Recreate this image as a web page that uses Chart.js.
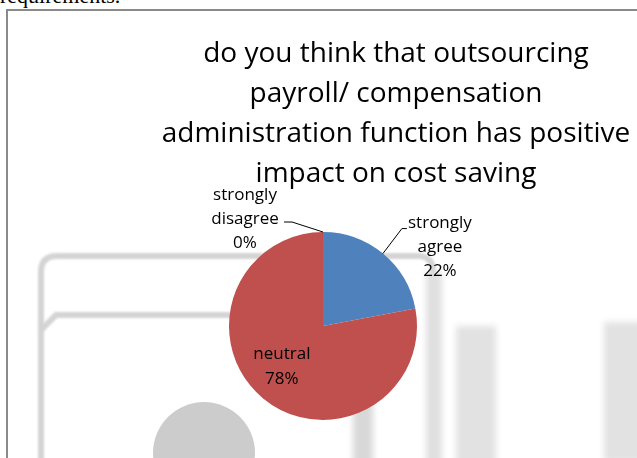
<!DOCTYPE html>
<html>
<head>
<meta charset="utf-8">
<script src="https://cdn.jsdelivr.net/npm/chart.js@4.4.1/dist/chart.umd.min.js"></script>
<style>
  html, body { margin: 0; padding: 0; background: #fff; overflow: hidden; }
  body { width: 637px; height: 458px; position: relative; }
  #above {
    position: absolute; left: 0; top: -17px;
    font-family: "Liberation Serif", serif; font-size: 22px; color: #000;
  }
  #frame {
    position: absolute; left: 6px; top: 9px; width: 800px; height: 600px;
    border: 2px solid #8a8a8a;
  }
  #wrap { position: absolute; left: 0; top: 0; width: 637px; height: 458px; }
</style>
</head>
<body>
<div id="above">requirements.</div>
<div id="frame"></div>
<div id="wrap"><canvas id="chart"></canvas></div>
<script>
const titleLines = [
  "do you think that outsourcing",
  "payroll/ compensation",
  "administration function has positive",
  "impact on cost saving"
];
const categories = ["strongly agree", "neutral", "strongly disagree"];
const shares = [22, 78, 0];
const sliceColors = ["#4f81bd", "#c0504d", "#9bbb59"];

const FONT = "'Open Sans', sans-serif";

// where each slice label sits, relative to the slice edge (outside) or centre (inside)
const labelPlacement = [
  { outside: true, text: [57, -6], line: [[19, -25], [24, -25]] },
  { outside: false, frac: 0.62, shift: [-4, -4] },
  { outside: true, text: [-78, -13], line: [[-31, -10], [-39, -10]] }
];

// faint shapes showing through from the page behind the chart
const backdrop = {
  id: "backdrop",
  beforeDatasetsDraw(chart) {
    const ctx = chart.ctx;
    ctx.save();
    ctx.filter = "blur(1px)";
    ctx.strokeStyle = "#d4d4d4";
    ctx.lineWidth = 6;
    ctx.beginPath();
    ctx.moveTo(41, 470);
    ctx.lineTo(41, 272);
    ctx.quadraticCurveTo(41, 256, 57, 256);
    ctx.lineTo(418, 256);
    ctx.quadraticCurveTo(433, 256, 433, 272);
    ctx.lineTo(433, 470);
    ctx.stroke();
    ctx.beginPath();
    ctx.moveTo(41, 330);
    ctx.lineTo(56, 315);
    ctx.lineTo(300, 315);
    ctx.stroke();

    ctx.filter = "blur(3px)";
    ctx.fillStyle = "#e0e0e0";
    ctx.fillRect(426, 272, 16, 200);
    ctx.fillStyle = "#d8d8d8";
    ctx.fillRect(353, 330, 20, 140);
    ctx.fillStyle = "#e2e2e2";
    ctx.fillRect(456, 326, 40, 140);
    ctx.fillRect(604, 322, 40, 140);

    ctx.filter = "none";
    ctx.fillStyle = "#cccccc";
    ctx.beginPath();
    ctx.arc(204, 453, 51, 0, Math.PI * 2);
    ctx.fill();
    ctx.restore();
  }
};

const headline = {
  id: "headline",
  afterDraw(chart) {
    const ctx = chart.ctx;
    ctx.save();
    ctx.fillStyle = "#000";
    ctx.font = "28px " + FONT;
    ctx.textAlign = "center";
    ctx.textBaseline = "alphabetic";
    titleLines.forEach((t, i) => ctx.fillText(t, 396, 62 + i * 40));
    ctx.restore();
  }
};

const sliceLabels = {
  id: "sliceLabels",
  afterDatasetsDraw(chart) {
    const ctx = chart.ctx;
    const arcs = chart.getDatasetMeta(0).data;
    ctx.save();
    ctx.font = "17px " + FONT;
    ctx.fillStyle = "#000";
    ctx.strokeStyle = "#000";
    ctx.lineWidth = 1;
    ctx.textAlign = "center";
    ctx.textBaseline = "middle";
    arcs.forEach((arc, i) => {
      const p = arc.getProps(["x", "y", "startAngle", "endAngle", "outerRadius"], true);
      const mid = (p.startAngle + p.endAngle) / 2;
      const lines = categories[i].split(" ").concat(shares[i] + "%");
      const place = labelPlacement[i];
      let cx, cy, lh;
      if (place.outside) {
        const ex = p.x + Math.cos(mid) * p.outerRadius;
        const ey = p.y + Math.sin(mid) * p.outerRadius;
        ctx.beginPath();
        ctx.moveTo(ex, ey);
        place.line.forEach(([dx, dy]) => ctx.lineTo(ex + dx, ey + dy));
        ctx.stroke();
        cx = ex + place.text[0];
        cy = ey + place.text[1];
        lh = 24;
      } else {
        cx = p.x + Math.cos(mid) * p.outerRadius * place.frac + place.shift[0];
        cy = p.y + Math.sin(mid) * p.outerRadius * place.frac + place.shift[1];
        lh = 25;
      }
      const top = cy - (lines.length - 1) * lh / 2;
      lines.forEach((t, k) => ctx.fillText(t, cx, top + k * lh));
    });
    ctx.restore();
  }
};

new Chart(document.getElementById("chart"), {
  type: "pie",
  data: {
    labels: categories,
    datasets: [{
      data: shares,
      backgroundColor: sliceColors,
      borderWidth: 0
    }]
  },
  options: {
    responsive: true,
    maintainAspectRatio: false,
    animation: false,
    layout: { padding: { left: 229, right: 220, top: 232, bottom: 38 } },
    plugins: {
      legend: { display: false },
      title: { display: false },
      tooltip: { enabled: false }
    }
  },
  plugins: [backdrop, headline, sliceLabels]
});
</script>
</body>
</html>
